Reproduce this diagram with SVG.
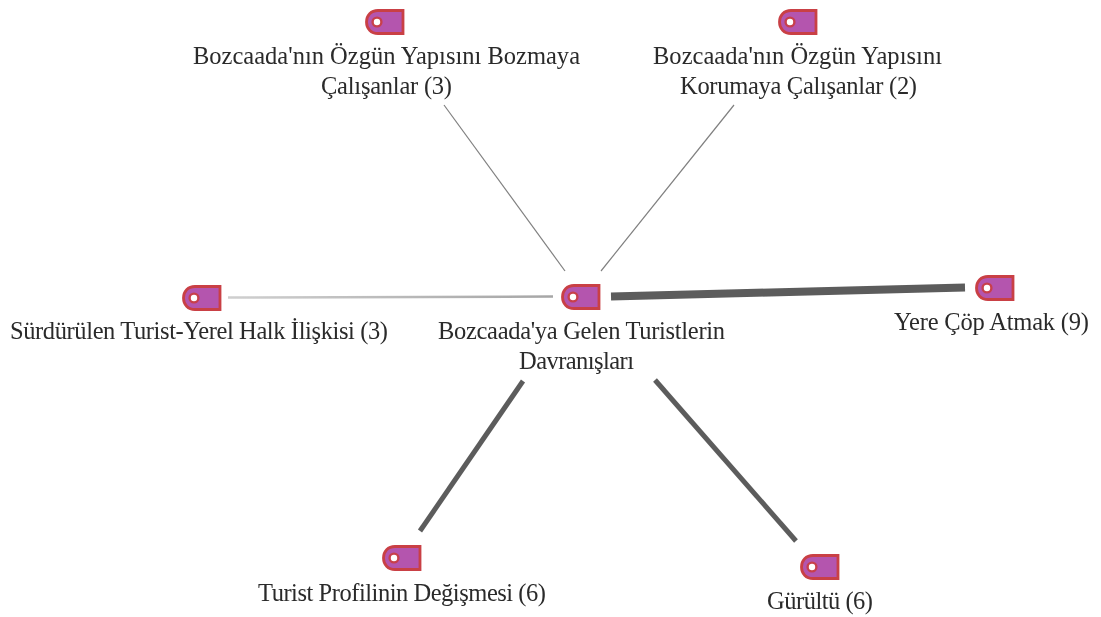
<svg xmlns="http://www.w3.org/2000/svg" width="1101" height="617" viewBox="0 0 1101 617">
<style>
text{font-family:"Liberation Serif","Times New Roman",serif;font-size:24.500px;fill:#2a2a2a;filter:url(#b)}
.c{stroke:#5c5c5c;fill:none}
.t{fill:#b455ae;stroke:#c93f45;stroke-width:2.800}
.h{fill:#fff;stroke:#c8404c;stroke-width:2.400}
use{filter:url(#b)}
line{filter:url(#bl)}
</style>
<defs>
<filter id="b" x="-10%" y="-30%" width="120%" height="160%"><feGaussianBlur stdDeviation="0.6"/></filter>
<filter id="bl" filterUnits="userSpaceOnUse" x="0" y="0" width="1101" height="617"><feGaussianBlur stdDeviation="0.4"/></filter>
<linearGradient id="g" gradientUnits="userSpaceOnUse" x1="228" y1="297" x2="553" y2="296"><stop offset="0" stop-color="#cfcfcf"/><stop offset="1" stop-color="#a6a6a6"/></linearGradient>
<g id="tag"><path class="t" d="M13 1.500H38V24.500H13C6 24.500 1.500 19.500 1.500 13S6 1.500 13 1.500Z"/><circle class="h" cx="12" cy="13" r="4.400"/></g>
</defs>
<rect width="1101" height="617" fill="#fff"/>
<g id="connectors">
<line class="c" x1="444" y1="105" x2="565" y2="271" stroke-width="1.200" style="stroke:#808080"/>
<line class="c" x1="734" y1="105" x2="601" y2="271" stroke-width="1.200" style="stroke:#808080"/>
<line x1="228" y1="297.500" x2="553" y2="296.500" stroke="url(#g)" stroke-width="2.500"/>
<line class="c" x1="611" y1="296.500" x2="965" y2="287.500" stroke-width="8"/>
<line class="c" x1="523" y1="381" x2="420" y2="531" stroke-width="5"/>
<line class="c" x1="655" y1="380" x2="796" y2="541" stroke-width="5"/>
</g>
<g id="n1"><use href="#tag" x="365" y="9"/><text x="193" y="63.500" textLength="387">Bozcaada'nın Özgün Yapısını Bozmaya</text><text x="321" y="94" textLength="131">Çalışanlar (3)</text></g>
<g id="n2"><use href="#tag" x="778" y="9"/><text x="653" y="63.500" textLength="289">Bozcaada'nın Özgün Yapısını</text><text x="680" y="94" textLength="237">Korumaya Çalışanlar (2)</text></g>
<g id="n3"><use href="#tag" x="182" y="285"/><text x="10" y="339" textLength="378">Sürdürülen Turist-Yerel Halk İlişkisi (3)</text></g>
<g id="n4"><use href="#tag" x="561" y="284"/><text x="438" y="339" textLength="287">Bozcaada'ya Gelen Turistlerin</text><text x="519" y="369" textLength="115">Davranışları</text></g>
<g id="n5"><use href="#tag" x="975" y="275"/><text x="894" y="330" textLength="195">Yere Çöp Atmak (9)</text></g>
<g id="n6"><use href="#tag" x="382" y="545"/><text x="258" y="601" textLength="288">Turist Profilinin Değişmesi (6)</text></g>
<g id="n7"><use href="#tag" x="800" y="554"/><text x="767" y="609" textLength="106">Gürültü (6)</text></g>
</svg>
